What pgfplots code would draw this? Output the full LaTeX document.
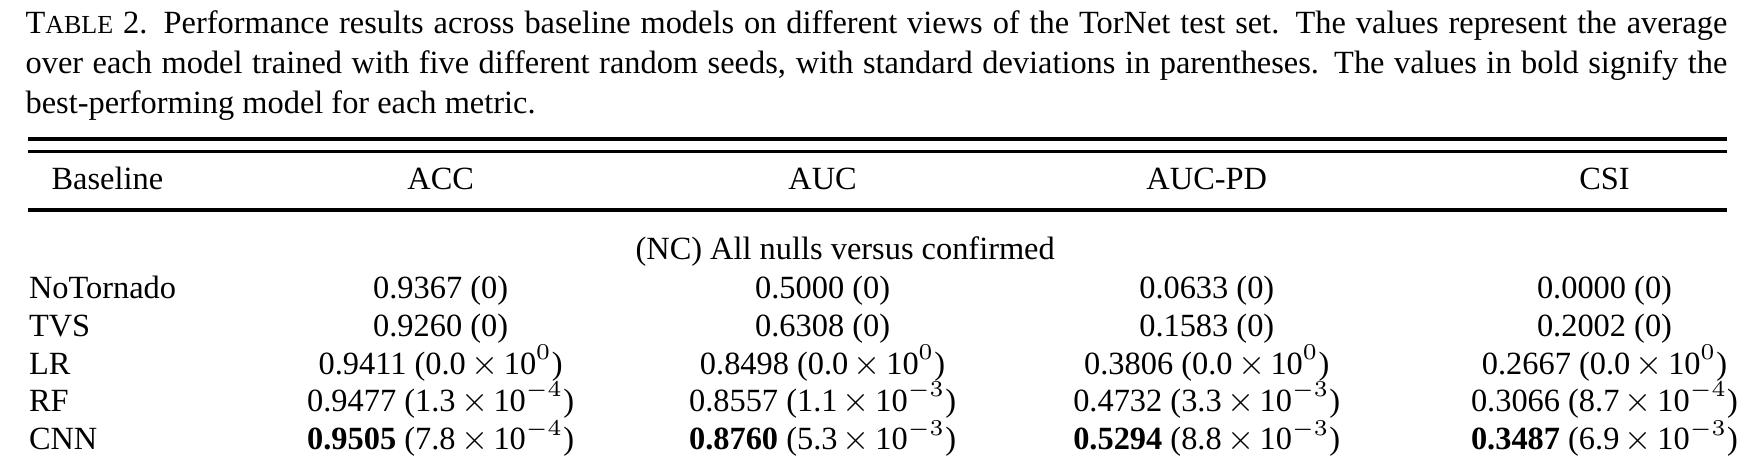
\documentclass[border=0pt]{standalone}
\usepackage{pgfplots}
\pgfplotsset{compat=1.18}
\usepackage{fontspec}
\setmainfont{Liberation Serif}
\newcommand{\sci}[2]{(#1\,$\times$\,10$^{#2}$)}
\begin{document}
\begin{tikzpicture}
\begin{axis}[width=521.4pt,height=125.4pt,scale only axis,hide axis,
  xmin=0,xmax=1738,ymin=0,ymax=418,y dir=reverse,clip=false,
  nodes={font=\fontsize{8.6}{10.5}\selectfont,inner sep=0pt}]
\addplot[draw=none] coordinates {(0,0)};
% caption
\node[anchor=base west] at (axis cs:22,30) {\makebox[451.8pt][s]{T{\fontsize{6.9}{8}\selectfont ABLE} 2. Performance results across baseline models on different views of the TorNet test set. The values represent the average}};
\node[anchor=base west] at (axis cs:22,65) {\makebox[451.8pt][s]{over each model trained with five different random seeds, with standard deviations in parentheses. The values in bold signify the}};
\node[anchor=base west] at (axis cs:22,100) {best-performing model for each metric.};
% rules
\draw[line width=0.9pt] (axis cs:25,123) -- (axis cs:1528,123);
\draw[line width=0.9pt] (axis cs:25,134) -- (axis cs:1528,134);
\draw[line width=0.9pt] (axis cs:25,186) -- (axis cs:1528,186);
% header
\node[anchor=base west] at (axis cs:45,168) {Baseline};
\node[anchor=base] at (axis cs:390,168) {ACC};
\node[anchor=base] at (axis cs:728,168) {AUC};
\node[anchor=base] at (axis cs:1068,168) {AUC-PD};
\node[anchor=base] at (axis cs:1420,168) {CSI};
\node[anchor=base] at (axis cs:748,230) {(NC) All nulls versus confirmed};
% rows
\node[anchor=base west] at (axis cs:25,264) {NoTornado};
\node[anchor=base] at (axis cs:390,264) {0.9367 (0)};
\node[anchor=base] at (axis cs:728,264) {0.5000 (0)};
\node[anchor=base] at (axis cs:1068,264) {0.0633 (0)};
\node[anchor=base] at (axis cs:1420,264) {0.0000 (0)};
\node[anchor=base west] at (axis cs:25,298) {TVS};
\node[anchor=base] at (axis cs:390,298) {0.9260 (0)};
\node[anchor=base] at (axis cs:728,298) {0.6308 (0)};
\node[anchor=base] at (axis cs:1068,298) {0.1583 (0)};
\node[anchor=base] at (axis cs:1420,298) {0.2002 (0)};
\node[anchor=base west] at (axis cs:25,331) {LR};
\node[anchor=base] at (axis cs:390,331) {0.9411 \sci{0.0}{0}};
\node[anchor=base] at (axis cs:728,331) {0.8498 \sci{0.0}{0}};
\node[anchor=base] at (axis cs:1068,331) {0.3806 \sci{0.0}{0}};
\node[anchor=base] at (axis cs:1420,331) {0.2667 \sci{0.0}{0}};
\node[anchor=base west] at (axis cs:25,364) {RF};
\node[anchor=base] at (axis cs:390,364) {0.9477 \sci{1.3}{-4}};
\node[anchor=base] at (axis cs:728,364) {0.8557 \sci{1.1}{-3}};
\node[anchor=base] at (axis cs:1068,364) {0.4732 \sci{3.3}{-3}};
\node[anchor=base] at (axis cs:1420,364) {0.3066 \sci{8.7}{-4}};
\node[anchor=base west] at (axis cs:25,398) {CNN};
\node[anchor=base] at (axis cs:390,398) {\textbf{0.9505} \sci{7.8}{-4}};
\node[anchor=base] at (axis cs:728,398) {\textbf{0.8760} \sci{5.3}{-3}};
\node[anchor=base] at (axis cs:1068,398) {\textbf{0.5294} \sci{8.8}{-3}};
\node[anchor=base] at (axis cs:1420,398) {\textbf{0.3487} \sci{6.9}{-3}};
\end{axis}
\end{tikzpicture}
\end{document}
